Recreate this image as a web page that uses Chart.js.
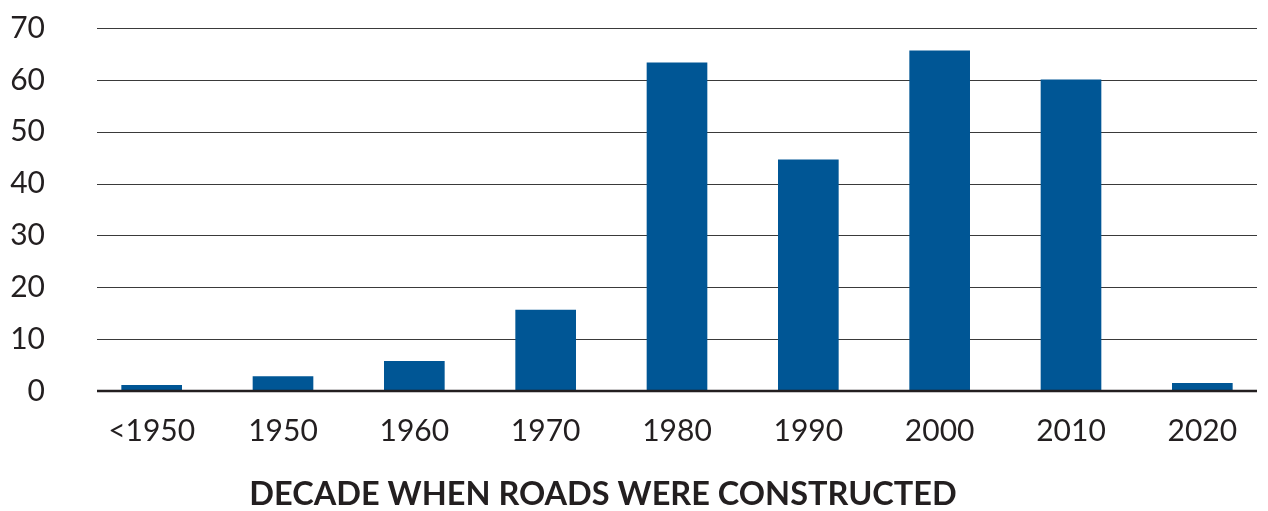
<!DOCTYPE html>
<html>
<head>
<meta charset="utf-8">
<script src="https://cdn.jsdelivr.net/npm/chart.js@4.4.1/dist/chart.umd.min.js"></script>
<style>
  html, body { margin: 0; padding: 0; background: #ffffff; }
  #wrap { position: relative; width: 1268px; height: 511px; }
</style>
</head>
<body>
<div id="wrap"><canvas id="c" width="1268" height="511"></canvas></div>
<script>
const categories = ['<1950', '1950', '1960', '1970', '1980', '1990', '2000', '2010', '2020'];
const roadCounts = [1.1, 2.8, 5.7, 15.6, 63.3, 44.6, 65.6, 60.0, 1.5];
const yTicks = [0, 10, 20, 30, 40, 50, 60, 70];
const axisTitle = 'DECADE WHEN ROADS WERE CONSTRUCTED';

const textColor = '#231f20';
const fontFamily = 'Lato, "Open Sans", sans-serif';

const gridPlugin = {
  id: 'hgrid',
  beforeDatasetsDraw(chart) {
    const ctx = chart.ctx;
    const y = chart.scales.y;
    const area = chart.chartArea;
    ctx.save();
    ctx.lineWidth = 1;
    ctx.strokeStyle = '#3a3a3a';
    yTicks.forEach(v => {
      if (v === 0) return;
      const py = Math.round(y.getPixelForValue(v)) + 0.5;
      ctx.beginPath();
      ctx.moveTo(area.left + 11, py);
      ctx.lineTo(area.right - 11, py);
      ctx.stroke();
    });
    ctx.restore();
  },
  afterDatasetsDraw(chart) {
    const ctx = chart.ctx;
    const y = chart.scales.y;
    const area = chart.chartArea;
    const py = Math.round(y.getPixelForValue(0));
    ctx.save();
    ctx.lineWidth = 2.5;
    ctx.strokeStyle = '#231f20';
    ctx.beginPath();
    ctx.moveTo(area.left + 11, py);
    ctx.lineTo(area.right - 11, py);
    ctx.stroke();
    ctx.restore();
  }
};

const titlePlugin = {
  id: 'bottomTitle',
  afterDraw(chart) {
    const ctx = chart.ctx;
    ctx.save();
    ctx.font = 'bold 32.5px ' + fontFamily;
    ctx.fillStyle = textColor;
    ctx.textAlign = 'center';
    ctx.textBaseline = 'middle';
    ctx.fillText(axisTitle, 603, 495);
    ctx.restore();
  }
};

new Chart(document.getElementById('c'), {
  type: 'bar',
  data: {
    labels: categories,
    datasets: [{
      data: roadCounts,
      backgroundColor: '#005695',
      borderWidth: 0,
      barThickness: 60
    }]
  },
  options: {
    responsive: false,
    animation: false,
    layout: { padding: { top: 28, right: 0, left: 0, bottom: 0 } },
    plugins: {
      legend: { display: false },
      tooltip: { enabled: false },
      title: { display: false }
    },
    scales: {
      x: {
        grid: { display: false, drawTicks: false },
        border: { display: false },
        ticks: {
          color: textColor,
          font: { family: fontFamily, size: 30 },
          padding: 22,
          maxRotation: 0,
          autoSkip: false
        },
        afterFit(scale) { scale.height = 120; scale.paddingLeft = 0; scale.paddingRight = 0; }
      },
      y: {
        min: 0,
        max: 70,
        grid: { display: false, drawTicks: false },
        border: { display: false },
        ticks: {
          stepSize: 10,
          color: textColor,
          font: { family: fontFamily, size: 30 },
          padding: 41
        },
        afterFit(scale) { scale.width = 86; scale.paddingTop = 0; scale.paddingBottom = 0; }
      }
    }
  },
  plugins: [gridPlugin, titlePlugin]
});
</script>
</body>
</html>
